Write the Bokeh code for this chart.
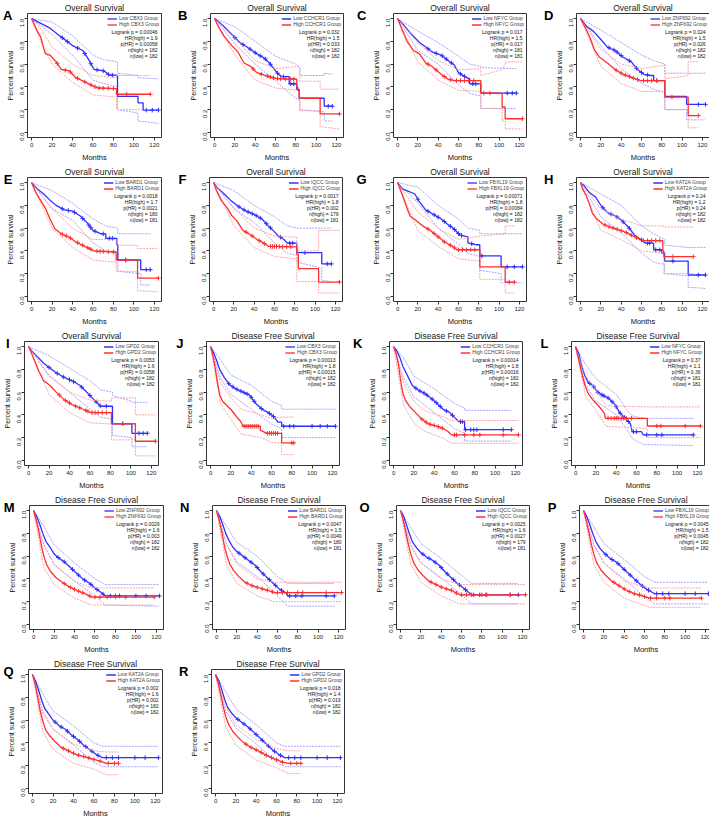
import math
import numpy as np
from bokeh.plotting import figure
from bokeh.models import (Range1d, Label, Legend, LegendItem, FixedTicker, PrintfTickFormatter,
                          LinearAxis, CustomJSTickFormatter, Title)
from bokeh.layouts import column, row
from bokeh.embed import file_html
from bokeh.resources import INLINE

# ---------------- panel meta ----------------
letters = ["A", "B", "C", "D", "E", "F", "G", "H", "I", "J", "K", "L", "M", "N", "O", "P", "Q", "R"]
genes = ["CBX3", "CCHCR1", "NFYC", "ZNF692", "BARD1", "IQCC", "FBXL19", "KAT2A", "GPD2",
         "CBX3", "CCHCR1", "NFYC", "ZNF692", "BARD1", "IQCC", "FBXL19", "KAT2A", "GPD2"]
titles = ["Overall Survival"] * 9 + ["Disease Free Survival"] * 9
logrank_p = ["0.00046", "0.032", "0.017", "0.024", "0.0018", "0.0017", "0.00071", "0.24", "0.0053",
             "0.00013", "0.00014", "0.37", "0.0029", "0.0047", "0.0025", "0.0045", "0.002", "0.018"]
hr_high = ["1.9", "1.5", "1.5", "1.5", "1.7", "1.8", "1.8", "1.2", "1.6",
           "1.8", "1.8", "1.1", "1.6", "1.5", "1.6", "1.5", "1.6", "1.4"]
p_hr = ["0.00058", "0.033", "0.017", "0.026", "0.0021", "0.002", "0.00084", "0.24", "0.0058",
        "0.00015", "0.00016", "0.36", "0.003", "0.0049", "0.0027", "0.0045", "0.002", "0.019"]
n_high = [182, 182, 181, 182, 180, 179, 182, 182, 182, 182, 182, 181, 182, 180, 179, 182, 182, 182]
n_low = [182, 182, 181, 182, 181, 181, 182, 182, 182, 182, 182, 181, 182, 181, 181, 182, 182, 182]
x_ticks = [0, 20, 40, 60, 80, 100, 120]
y_ticks = [0.0, 0.2, 0.4, 0.6, 0.8, 1.0]

# ---------------- curves: L = low group (blue), H = high group (red) ----------------
A_L_t = [0, 9, 18, 28, 40, 50, 56, 61, 71, 76, 84, 84, 104, 104, 109, 109, 124]
A_L_s = [1, .958, .916, .846, .763, .72, .637, .553, .54, .503, .503, .316, .316, .26, .26, .196, .196]
A_L_cens = [30, 35, 45, 52, 58, 64, 70, 75, 79, 112, 118, 124]
A_L_cit = [0, 20, 40, 60, 70, 84, 84, 104, 104, 124]
A_L_ciu = [1, .97, .85, .68, .64, .62, .52, .5, .48, .47]
A_L_cil = [1, .86, .68, .46, .43, .40, .2, .17, .1, .08]
A_H_t = [0, 5.6, 8.8, 13.5, 18, 24, 29, 37, 43, 49.5, 59, 65, 83, 83, 116]
A_H_s = [1, .888, .84, .69, .68, .62, .553, .54, .483, .455, .413, .39, .385, .335, .335]
A_H_cens = [25, 33, 38, 45, 52, 58, 62, 66, 70, 75, 80, 93, 116]
A_H_cit = [0, 10, 20, 40, 60, 83, 83, 116]
A_H_ciu = [1, .9, .75, .6, .5, .48, .5, .5]
A_H_cil = [1, .78, .6, .44, .33, .31, .2, .2]

B_L_t = [0, 7.7, 17, 24.7, 32, 41.7, 49.4, 54, 59, 63, 66.4, 73.5, 73.5, 81, 81, 83.4, 83.4, 108, 108, 116]
B_L_s = [1, .944, .86, .79, .75, .69, .65, .61, .553, .51, .49, .49, .427, .427, .377, .377, .30, .30, .23, .23]
B_L_cens = [20, 28, 35, 40, 45, 50, 55, 62, 68, 75, 78, 112, 116]
B_L_cit = [0, 20, 40, 60, 80, 84, 84, 108, 108, 116]
B_L_ciu = [1, .93, .8, .67, .6, .57, .5, .5, .52, .51]
B_L_cil = [1, .78, .6, .45, .3, .28, .2, .18, .1, .1]
B_H_t = [0, 4.6, 9.3, 17, 23, 29, 35.5, 41.7, 51, 60, 69.5, 81, 81, 82, 82, 83.4, 83.4, 104, 104, 123]
B_H_s = [1, .916, .846, .763, .707, .61, .58, .525, .497, .475, .469, .469, .40, .40, .37, .37, .30, .30, .162, .162]
B_H_cens = [38, 46, 52, 55, 58, 62, 65, 70, 75, 78, 123]
B_H_cit = [0, 20, 40, 60, 82, 84, 84, 104, 104, 123]
B_H_ciu = [1, .83, .63, .56, .58, .56, .45, .45, .38, .38]
B_H_cil = [1, .68, .46, .39, .37, .3, .19, .19, .05, .03]

C_L_t = [0, 6, 12.4, 21.6, 27.8, 34, 43, 51, 55.6, 60, 65, 69.5, 71, 71, 82, 82, 117]
C_L_s = [1, .944, .874, .79, .75, .707, .68, .623, .595, .525, .497, .475, .475, .427, .427, .345, .345]
C_L_cens = [30, 38, 44, 48, 53, 62, 66, 74, 77, 108, 113, 117]
C_L_cit = [0, 20, 40, 60, 71, 82, 82, 117]
C_L_ciu = [1, .89, .79, .67, .6, .58, .57, .56]
C_L_cil = [1, .72, .6, .42, .34, .32, .21, .21]
C_H_t = [0, 4.6, 9.3, 15.5, 21.6, 27.8, 34, 43, 49.4, 55.6, 82, 82, 103, 103, 106, 106, 123]
C_H_s = [1, .9, .8, .72, .69, .61, .58, .51, .469, .455, .455, .345, .345, .223, .223, .12, .12]
C_H_cens = [30, 38, 46, 52, 58, 62, 66, 70, 75, 85, 91, 123]
C_H_cit = [0, 20, 40, 60, 82, 82, 103, 103, 106, 106, 123]
C_H_ciu = [1, .79, .63, .55, .56, .5, .55, .55, .6, .62, .62]
C_H_cil = [1, .62, .46, .37, .36, .21, .21, .1, .1, .03, .03]

D_L_t = [0, 6.2, 12.5, 18.7, 26.5, 34, 42, 50, 56, 62.4, 68.6, 72, 72, 83, 83, 104.5, 104.5, 123]
D_L_s = [1, .93, .89, .83, .75, .72, .66, .62, .553, .51, .50, .50, .455, .455, .316, .316, .246, .246]
D_L_cens = [28, 33, 36, 40, 48, 55, 60, 66, 75, 116, 123]
D_L_cit = [0, 20, 40, 60, 72, 83, 83, 104.5, 104.5, 123]
D_L_ciu = [1, .9, .79, .68, .63, .6, .52, .52, .52, .52]
D_L_cil = [1, .76, .56, .43, .38, .35, .2, .2, .11, .11]
D_H_t = [0, 4.7, 9.4, 14, 18.7, 26.5, 34, 42, 50, 59, 83, 83, 106, 106, 116]
D_H_s = [1, .92, .83, .72, .66, .61, .553, .51, .483, .455, .455, .31, .31, .148, .148]
D_H_cens = [35, 40, 44, 48, 52, 56, 62, 66, 70, 75, 90, 116]
D_H_cit = [0, 20, 40, 60, 83, 83, 106, 106, 116]
D_H_ciu = [1, .73, .6, .56, .59, .47, .5, .62, .62]
D_H_cil = [1, .58, .43, .36, .36, .2, .2, .04, .04]

E_L_t = [0, 5.6, 11.8, 18, 24, 32, 40, 47.6, 54, 60, 68, 72.5, 72.5, 83.3, 83.3, 84.3, 84.3, 106.7, 106.7, 116]
E_L_s = [1, .944, .9, .846, .80, .76, .75, .706, .65, .58, .55, .55, .51, .51, .454, .454, .32, .32, .235, .235]
E_L_cens = [30, 36, 42, 50, 56, 58, 62, 70, 76, 79, 92, 112, 116]
E_L_cit = [0, 20, 40, 60, 72.5, 84.3, 84.3, 106.7, 106.7, 116]
E_L_ciu = [1, .93, .82, .68, .62, .6, .55, .55, .55, .55]
E_L_cil = [1, .77, .67, .47, .4, .38, .22, .2, .1, .1]
E_H_t = [0, 4, 8.7, 13.4, 18, 22.7, 29, 36.7, 43, 52, 61.6, 82.7, 82.7, 103.6, 103.6, 124]
E_H_s = [1, .916, .846, .776, .68, .594, .55, .52, .48, .44, .398, .39, .32, .32, .16, .16]
E_H_cens = [30, 34, 38, 45, 50, 55, 58, 64, 67, 70, 75, 80, 92, 124]
E_H_cit = [0, 20, 40, 60, 82.7, 82.7, 103.6, 103.6, 124]
E_H_ciu = [1, .77, .6, .5, .5, .45, .45, .42, .42]
E_H_cil = [1, .6, .43, .32, .3, .22, .22, .05, .04]

F_L_t = [0, 4.3, 10.5, 16.7, 24.5, 32, 40, 47.7, 54, 58.6, 63, 69.4, 72.5, 82, 82, 106.6, 106.6, 116]
F_L_s = [1, .95, .9, .846, .79, .75, .72, .68, .62, .58, .538, .5, .468, .468, .384, .384, .286, .286]
F_L_cens = [25, 30, 34, 38, 42, 46, 52, 56, 66, 75, 78, 90, 112, 116]
F_L_cit = [0, 20, 40, 60, 72.5, 82, 82, 106.6, 106.6, 116]
F_L_ciu = [1, .93, .8, .7, .62, .6, .6, .6, .6, .6]
F_L_cil = [1, .77, .65, .47, .38, .36, .3, .25, .14, .13]
F_H_t = [0, 2.8, 7.4, 13.6, 18.3, 23, 29, 35, 43, 49, 54, 82, 82, 83.5, 83.5, 103.5, 103.5, 124]
F_H_s = [1, .93, .846, .776, .706, .664, .58, .55, .5, .47, .44, .435, .37, .37, .244, .244, .126, .126]
F_H_cens = [32, 38, 45, 50, 56, 58, 60, 62, 65, 68, 72, 76, 124]
F_H_cit = [0, 20, 40, 60, 82, 82, 103.5, 103.5, 124]
F_H_ciu = [1, .78, .6, .53, .52, .4, .4, .58, .58]
F_H_cil = [1, .62, .43, .35, .33, .13, .13, .03, .03]

G_L_t = [0, 4.6, 9.2, 17, 21.6, 27.7, 35.4, 43, 49, 55.4, 61.6, 69.3, 69.3, 77, 81, 81, 102, 102, 123]
G_L_s = [1, .944, .93, .9, .83, .76, .72, .68, .636, .594, .538, .524, .47, .454, .454, .356, .356, .26, .26]
G_L_cens = [20, 30, 36, 40, 46, 52, 56, 60, 63, 73, 83, 108, 115, 123]
G_L_cit = [0, 20, 40, 60, 69.3, 81, 81, 102, 102, 123]
G_L_ciu = [1, .96, .8, .68, .6, .58, .55, .55, .55, .55]
G_L_cil = [1, .82, .6, .46, .38, .35, .23, .2, .12, .12]
G_H_t = [0, 3, 6, 9.2, 12.3, 18.5, 24.6, 32.3, 40, 46, 54, 58.5, 81, 81, 106, 106, 115]
G_H_s = [1, .93, .86, .776, .706, .664, .62, .58, .524, .48, .44, .41, .41, .26, .26, .126, .126]
G_H_cens = [30, 36, 40, 46, 52, 56, 60, 64, 68, 72, 76, 110, 115]
G_H_cit = [0, 20, 40, 60, 81, 81, 106, 106, 115]
G_H_ciu = [1, .74, .6, .5, .53, .53, .55, .62, .62]
G_H_cil = [1, .58, .44, .33, .31, .15, .15, .03, .03]

H_L_t = [0, 3.7, 8.4, 14.6, 20.8, 27, 34.7, 41, 47, 53.3, 59.5, 64, 72, 72, 80, 80, 82.8, 82.8, 106, 106, 123]
H_L_s = [1, .97, .916, .874, .79, .734, .706, .664, .61, .538, .5, .468, .468, .41, .41, .38, .38, .31, .31, .188, .188]
H_L_cens = [22, 30, 36, 42, 48, 60, 66, 68, 74, 78, 91, 116, 123]
H_L_cit = [0, 20, 40, 60, 72, 82.8, 82.8, 106, 106, 123]
H_L_ciu = [1, .9, .8, .62, .55, .5, .45, .43, .43, .43]
H_L_cil = [1, .7, .56, .38, .3, .28, .2, .18, .08, .07]
H_H_t = [0, 2, 5.3, 8.4, 11.5, 16, 22, 28.5, 36, 44, 50, 56.4, 61, 81, 81, 82, 82, 111]
H_H_s = [1, .944, .89, .82, .734, .68, .636, .61, .59, .566, .538, .51, .49, .49, .40, .40, .35, .35]
H_H_cens = [24, 28, 32, 36, 40, 45, 50, 55, 62, 66, 70, 74, 78, 91, 111]
H_H_cit = [0, 20, 40, 60, 81, 82, 82, 111]
H_H_ciu = [1, .77, .68, .62, .62, .62, .61, .61]
H_H_cil = [1, .58, .5, .4, .38, .38, .2, .2]

I_L_t = [0, 4, 8.7, 14.8, 21, 27, 35, 42.6, 50.4, 55, 59.6, 64, 70.4, 82, 82, 101, 101, 116]
I_L_s = [1, .952, .91, .854, .81, .77, .728, .7, .658, .616, .574, .532, .476, .476, .322, .322, .238, .238]
I_L_cens = [20, 28, 34, 40, 44, 52, 60, 66, 70, 76, 92, 108, 112, 116]
I_L_cit = [0, 20, 40, 60, 70.4, 82, 82, 101, 101, 116]
I_L_ciu = [1, .92, .81, .7, .62, .6, .57, .52, .51, .51]
I_L_cil = [1, .74, .6, .45, .38, .36, .22, .2, .12, .12]
I_H_t = [0, 2.5, 5.6, 10, 14.8, 21, 27, 35, 42.6, 52, 61, 81, 81, 104.4, 104.4, 124]
I_H_s = [1, .95, .88, .784, .7, .658, .6, .532, .49, .454, .42, .42, .322, .322, .168, .168]
I_H_cens = [30, 36, 40, 46, 50, 56, 58, 62, 65, 68, 72, 76, 92, 124]
I_H_cit = [0, 20, 40, 60, 81, 81, 104.4, 104.4, 124]
I_H_ciu = [1, .75, .6, .53, .52, .55, .55, .4, .4]
I_H_cil = [1, .58, .42, .33, .32, .18, .18, .04, .04]

J_L_t = [0, 2.8, 5.9, 9, 13.6, 18.3, 24.5, 32, 38.4, 44.6, 51, 57, 63, 66.3, 70, 70, 123]
J_L_s = [1, .95, .88, .8, .728, .67, .63, .6, .574, .5, .448, .42, .378, .336, .336, .3, .3]
J_L_cens = [18, 22, 26, 30, 33, 36, 40, 43, 50, 58, 62, 72, 78, 82, 100, 108, 115, 123]
J_L_cit = [0, 10, 20, 40, 60, 70, 70, 123]
J_L_ciu = [1, .88, .75, .66, .52, .48, .45, .45]
J_L_cil = [1, .72, .58, .45, .32, .28, .2, .2]
J_H_t = [0, 2.2, 4.3, 6.8, 9, 12, 16.7, 21.4, 26, 29, 32, 49, 49, 55.5, 70, 70, 82]
J_H_s = [1, .924, .826, .686, .574, .518, .476, .434, .378, .35, .3, .3, .266, .238, .238, .154, .154]
J_H_cens = [33, 35, 37, 39, 41, 43, 45, 47, 56, 58, 60, 62, 64, 66, 80, 82]
J_H_cit = [0, 10, 20, 30, 50, 60, 70, 70, 82]
J_H_ciu = [1, .68, .55, .45, .4, .37, .38, .38, .38]
J_H_cil = [1, .5, .36, .23, .2, .16, .15, .05, .05]

K_L_t = [0, 3, 6, 9.2, 12.3, 15.4, 18.5, 24.6, 30.8, 37, 43, 49, 55.4, 60, 64.7, 70, 70, 116]
K_L_s = [1, .966, .91, .826, .77, .714, .658, .616, .588, .546, .5, .448, .42, .378, .34, .34, .27, .27]
K_L_cens = [22, 26, 30, 33, 38, 42, 46, 52, 58, 66, 68, 71, 76, 79, 82, 108, 116]
K_L_cit = [0, 10, 20, 40, 60, 70, 70, 116]
K_L_ciu = [1, .9, .74, .63, .5, .46, .44, .44]
K_L_cil = [1, .72, .56, .42, .28, .24, .17, .17]
K_H_t = [0, 2.5, 4.6, 6.8, 9.2, 12.3, 17, 21.6, 27.7, 34, 43, 49, 54, 57, 123]
K_H_s = [1, .94, .854, .714, .588, .518, .462, .42, .364, .322, .3, .28, .252, .224, .224]
K_H_cens = [28, 32, 36, 40, 44, 48, 60, 62, 70, 79, 85, 108, 123]
K_H_cit = [0, 10, 20, 30, 50, 57, 123]
K_H_ciu = [1, .68, .52, .44, .38, .35, .35]
K_H_cil = [1, .48, .33, .26, .19, .15, .15]

L_L_t = [0, 3.1, 6.2, 9.3, 12.4, 17, 21.7, 26.4, 32.6, 38.8, 43.4, 49.6, 54, 55.8, 65, 66.7, 116]
L_L_s = [1, .94, .826, .742, .686, .658, .6, .574, .546, .49, .42, .364, .322, .252, .252, .224, .224]
L_L_cens = [14, 18, 22, 26, 28, 32, 36, 40, 44, 48, 52, 57, 60, 70, 80, 85, 116]
L_L_cit = [0, 10, 20, 40, 50, 56, 67, 116]
L_L_ciu = [1, .84, .72, .58, .45, .39, .37, .37]
L_L_cil = [1, .66, .52, .4, .28, .19, .14, .13]
L_H_t = [0, 2.5, 4.6, 6.8, 9.3, 12.4, 17, 23, 28, 29.5, 70.7, 70.7, 123]
L_H_s = [1, .91, .826, .742, .658, .588, .532, .476, .42, .37, .37, .302, .302]
L_H_cens = [32, 35, 38, 40, 42, 45, 47, 50, 55, 80, 84, 108, 123]
L_H_cit = [0, 10, 20, 30, 70.7, 70.7, 123]
L_H_ciu = [1, .74, .62, .48, .47, .47, .47]
L_H_cil = [1, .56, .44, .3, .28, .2, .2]

M_L_t = [0, 3, 6, 9, 12, 16, 20, 25, 30, 36, 42, 48, 55, 60, 66, 70, 123]
M_L_s = [1, .95, .88, .8, .73, .68, .62, .58, .55, .5, .45, .4, .36, .32, .28, .25, .25]
M_L_cens = [24, 30, 38, 44, 50, 56, 62, 68, 75, 80, 84, 100, 110, 123]
M_L_cit = [0, 10, 20, 40, 60, 70, 123]
M_L_ciu = [1, .86, .7, .54, .4, .35, .35]
M_L_cil = [1, .7, .53, .38, .25, .17, .16]
M_H_t = [0, 2.5, 5, 7.5, 10, 13, 17, 22, 28, 35, 42, 50, 57, 118]
M_H_s = [1, .92, .82, .7, .6, .52, .46, .41, .37, .33, .3, .27, .24, .24]
M_H_cens = [30, 36, 40, 44, 48, 55, 60, 65, 72, 80, 90, 118]
M_H_cit = [0, 10, 20, 40, 57, 118]
M_H_ciu = [1, .7, .52, .38, .32, .32]
M_H_cil = [1, .5, .35, .23, .17, .17]

N_L_t = [0, 3, 6, 9, 12, 16, 20, 26, 32, 38, 44, 50, 56, 62, 68, 70, 116]
N_L_s = [1, .95, .88, .8, .74, .68, .64, .6, .56, .52, .46, .41, .36, .31, .28, .25, .25]
N_L_cens = [22, 28, 34, 40, 46, 52, 58, 64, 72, 78, 84, 108, 116]
N_L_cit = [0, 10, 20, 40, 60, 70, 116]
N_L_ciu = [1, .86, .72, .6, .42, .36, .36]
N_L_cil = [1, .7, .55, .42, .25, .16, .16]
N_H_t = [0, 2.5, 5, 7.5, 10, 13, 17, 22, 28, 35, 42, 50, 57, 123]
N_H_s = [1, .92, .82, .7, .61, .53, .47, .42, .37, .34, .32, .3, .28, .28]
N_H_cens = [30, 35, 40, 45, 50, 55, 60, 65, 70, 80, 85, 108, 123]
N_H_cit = [0, 10, 20, 40, 57, 123]
N_H_ciu = [1, .7, .53, .4, .37, .37]
N_H_cil = [1, .52, .36, .25, .2, .2]

O_L_t = [0, 3, 6, 9, 12, 16, 20, 26, 32, 38, 44, 50, 56, 62, 66, 70, 116]
O_L_s = [1, .95, .87, .79, .72, .67, .63, .59, .56, .52, .46, .41, .36, .32, .29, .26, .26]
O_L_cens = [22, 28, 34, 40, 46, 52, 58, 64, 72, 78, 84, 108, 116]
O_L_cit = [0, 10, 20, 40, 60, 70, 116]
O_L_ciu = [1, .85, .71, .58, .43, .36, .36]
O_L_cil = [1, .69, .54, .41, .26, .18, .18]
O_H_t = [0, 2.5, 5, 7.5, 10, 13, 17, 22, 28, 35, 42, 50, 58, 123]
O_H_s = [1, .92, .82, .71, .62, .54, .48, .43, .38, .35, .32, .3, .26, .26]
O_H_cens = [30, 35, 40, 45, 50, 55, 60, 65, 70, 80, 85, 108, 123]
O_H_cit = [0, 10, 20, 40, 58, 123]
O_H_ciu = [1, .71, .54, .4, .35, .35]
O_H_cil = [1, .53, .37, .25, .18, .18]

P_L_t = [0, 3, 6, 9, 12, 16, 20, 26, 32, 38, 44, 50, 56, 62, 68, 70, 123]
P_L_s = [1, .95, .88, .8, .73, .67, .63, .58, .55, .5, .45, .4, .35, .31, .28, .27, .27]
P_L_cens = [22, 28, 34, 40, 46, 52, 58, 64, 72, 78, 84, 100, 110, 123]
P_L_cit = [0, 10, 20, 40, 60, 70, 123]
P_L_ciu = [1, .86, .71, .57, .42, .37, .37]
P_L_cil = [1, .7, .54, .4, .24, .18, .18]
P_H_t = [0, 2.5, 5, 7.5, 10, 13, 17, 22, 28, 35, 42, 50, 58, 65, 116]
P_H_s = [1, .92, .82, .71, .62, .54, .48, .43, .38, .34, .3, .27, .25, .23, .23]
P_H_cens = [30, 35, 40, 45, 50, 55, 60, 66, 72, 80, 85, 116]
P_H_cit = [0, 10, 20, 40, 65, 116]
P_H_ciu = [1, .71, .54, .38, .32, .32]
P_H_cil = [1, .53, .37, .23, .15, .15]

Q_L_t = [0, 3, 6, 9, 12, 16, 20, 26, 32, 38, 44, 50, 56, 62, 68, 123]
Q_L_s = [1, .94, .86, .77, .7, .65, .6, .55, .52, .47, .43, .38, .34, .3, .27, .27]
Q_L_cens = [22, 28, 34, 40, 46, 52, 58, 64, 72, 78, 84, 100, 110, 123]
Q_L_cit = [0, 10, 20, 40, 60, 68, 123]
Q_L_ciu = [1, .83, .68, .55, .4, .37, .37]
Q_L_cil = [1, .66, .52, .38, .23, .19, .19]
Q_H_t = [0, 2.5, 5, 7.5, 10, 13, 17, 22, 28, 35, 42, 50, 58, 66, 72, 84]
Q_H_s = [1, .92, .8, .68, .59, .51, .46, .41, .36, .33, .3, .28, .26, .24, .22, .22]
Q_H_cens = [30, 35, 40, 45, 50, 55, 60, 66, 74, 80, 84]
Q_H_cit = [0, 10, 20, 40, 60, 72, 84]
Q_H_ciu = [1, .68, .52, .39, .33, .32, .32]
Q_H_cil = [1, .5, .34, .22, .17, .12, .12]

R_L_t = [0, 3, 6, 9, 12, 16, 20, 26, 32, 38, 44, 50, 56, 62, 68, 123]
R_L_s = [1, .95, .87, .78, .71, .66, .62, .58, .54, .49, .44, .39, .34, .3, .27, .27]
R_L_cens = [22, 28, 34, 40, 46, 52, 58, 64, 72, 78, 84, 100, 110, 123]
R_L_cit = [0, 10, 20, 40, 60, 68, 123]
R_L_ciu = [1, .85, .7, .56, .4, .37, .37]
R_L_cil = [1, .68, .53, .39, .23, .19, .19]
R_H_t = [0, 2.5, 5, 7.5, 10, 13, 17, 22, 28, 35, 42, 50, 58, 66, 72, 84]
R_H_s = [1, .93, .83, .72, .63, .56, .5, .45, .4, .36, .33, .29, .26, .23, .22, .22]
R_H_cens = [30, 35, 40, 45, 50, 55, 60, 66, 74, 80, 84]
R_H_cit = [0, 10, 20, 40, 60, 72, 84]
R_H_ciu = [1, .72, .56, .43, .35, .33, .33]
R_H_cil = [1, .54, .38, .25, .18, .13, .13]

# ---------------- style / layout ----------------
FONT = "Liberation Sans"
BLUE, RED = "#2f2fff", "#ff2f2f"
BLUE_CI, RED_CI = "#9a9aff", "#ff9a9a"
# min border left, frame width, min border right, letter standoff
COLS = [(22, 134, 14, -9), (34, 133, 11, -1), (36, 133, 15, 3), (33, 133, 2, -1)]
FRAME_H, BORDER_B = 124, 24
XR = (-4, 127)
YR = (-0.045, 1.045)


def curve(k, g):
    d = globals()
    return (d[f"{k}_{g}_t"], d[f"{k}_{g}_s"], d[f"{k}_{g}_cens"],
            d[f"{k}_{g}_cit"], d[f"{k}_{g}_ciu"], d[f"{k}_{g}_cil"])


def style_axis(ax):
    ax.axis_line_color = None
    ax.major_tick_line_color = "#333333"
    ax.major_tick_out = 3
    ax.major_tick_in = 0
    ax.minor_tick_out = 0
    ax.minor_tick_in = 0
    ax.major_label_text_font = FONT
    ax.major_label_text_font_size = "6px"
    ax.major_label_text_color = "#222222"
    ax.major_label_standoff = 2
    ax.axis_label_text_font = FONT
    ax.axis_label_text_font_style = "normal"
    ax.axis_label_text_color = "#111111"
    ax.axis_label_standoff = 2


def make_panel(i):
    k = letters[i]
    L, F, R, lstand = COLS[i % 4]
    ttl = Title(text=titles[i], align="center", text_font=FONT, text_font_size="8.5px",
                text_font_style="normal", text_color="#1a1a1a", standoff=1)
    p = figure(frame_width=F, frame_height=FRAME_H,
               min_border_left=L, min_border_right=R, min_border_top=0, min_border_bottom=BORDER_B,
               x_range=Range1d(*XR), y_range=Range1d(*YR), title=ttl,
               output_backend="svg", toolbar_location=None, tools="")
    p.xgrid.visible = False
    p.ygrid.visible = False
    p.outline_line_color = "#333333"
    p.outline_line_width = 1
    p.background_fill_color = "white"
    p.border_fill_color = "white"

    style_axis(p.xaxis[0])
    style_axis(p.yaxis[0])
    p.xaxis.ticker = FixedTicker(ticks=x_ticks)
    p.yaxis.ticker = FixedTicker(ticks=y_ticks)
    p.yaxis.formatter = PrintfTickFormatter(format="%.1f")
    p.yaxis.major_label_orientation = math.pi / 2
    p.xaxis.axis_label = "Months"
    p.xaxis.axis_label_text_font_size = "7.5px"
    p.xaxis.axis_label_standoff = 3
    p.yaxis.axis_label = "Percent survival"
    p.yaxis.axis_label_text_font_size = "7px"

    # panel letter, carried by an extra tick-less axis on the left
    letter_axis = LinearAxis(ticker=FixedTicker(ticks=[1.03]),
                             formatter=CustomJSTickFormatter(args=dict(letter=k), code="return letter;"),
                             axis_line_color=None, major_tick_line_color=None, minor_tick_line_color=None,
                             major_tick_out=0, major_tick_in=0, minor_tick_out=0, minor_tick_in=0,
                             major_label_text_font=FONT, major_label_text_font_size="13px",
                             major_label_text_font_style="bold", major_label_text_color="black",
                             major_label_orientation="horizontal", major_label_standoff=lstand)
    p.add_layout(letter_axis, "left")

    renderers = {}
    for g, col, cic in (("L", BLUE, BLUE_CI), ("H", RED, RED_CI)):
        t, s, cens, cit, ciu, cil = curve(k, g)
        p.line(cit, ciu, line_color=cic, line_width=0.9, line_dash="2 1")
        p.line(cit, cil, line_color=cic, line_width=0.9, line_dash="2 1")
        renderers[g] = p.line(t, s, line_color=col, line_width=1.3)
        cy = np.interp(cens, t, s)
        p.scatter(cens, cy, marker="cross", size=4.5, line_color=col, line_width=1)

    leg = Legend(items=[LegendItem(label=f"Low {genes[i]} Group", renderers=[renderers["L"]]),
                        LegendItem(label=f"High {genes[i]} Group", renderers=[renderers["H"]])],
                 location="top_right", label_text_font=FONT, label_text_font_size="5px",
                 label_height=5, glyph_height=5, glyph_width=10, label_standoff=2,
                 spacing=0, padding=1, margin=2, border_line_color=None,
                 background_fill_alpha=0)
    p.add_layout(leg)

    stats = [f"Logrank p = {logrank_p[i]}", f"HR(high) = {hr_high[i]}", f"p(HR) = {p_hr[i]}",
             f"n(high) = {n_high[i]}", f"n(low) = {n_low[i]}"]
    for j, txt in enumerate(stats):
        p.add_layout(Label(x=XR[1], y=YR[1], x_offset=-4, y_offset=-(18 + 6 * j), text=txt,
                           text_align="right", text_baseline="middle", text_font=FONT,
                           text_font_size="5px", text_color="#111111"))
    return p


panels = [make_panel(i) for i in range(len(letters))]
rows = [row(*panels[r * 4:(r + 1) * 4]) for r in range(5)]
layout = column(*rows)

open("out.html", "w").write(file_html(layout, INLINE))
